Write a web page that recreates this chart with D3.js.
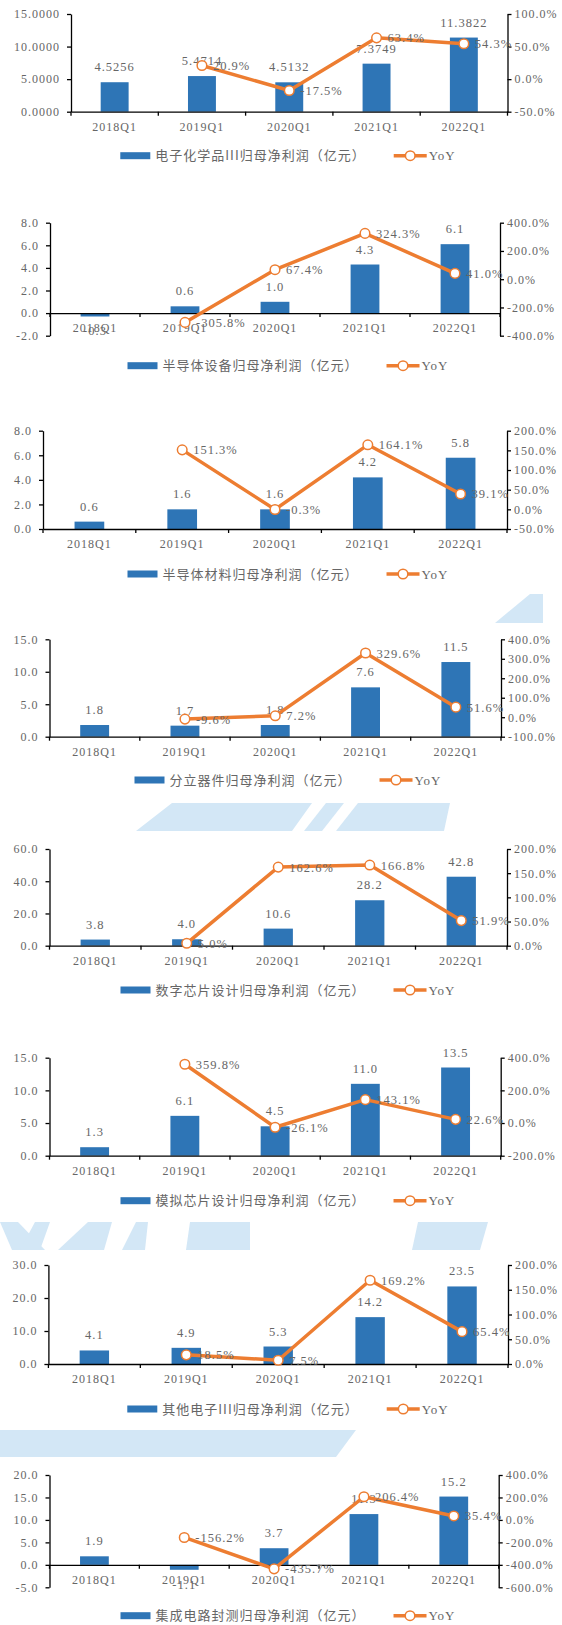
<!DOCTYPE html>
<html>
<head>
<meta charset="utf-8">
<script src="https://cdn.jsdelivr.net/npm/d3@7/dist/d3.min.js"></script>
<style>
  body { margin: 0; background: #fff; }
  svg { display: block; }
</style>
</head>
<body>
<svg id="chart" width="562" height="1625"></svg>
<script>
// ---- data ----
const quarters = ['2018Q1', '2019Q1', '2020Q1', '2021Q1', '2022Q1'];

const titles = [
  '电子化学品III归母净利润（亿元）',
  '半导体设备归母净利润（亿元）',
  '半导体材料归母净利润（亿元）',
  '分立器件归母净利润（亿元）',
  '数字芯片设计归母净利润（亿元）',
  '模拟芯片设计归母净利润（亿元）',
  '其他电子III归母净利润（亿元）',
  '集成电路封测归母净利润（亿元）'
];

const chemProfit = [4.5256, 5.4714, 4.5132, 7.3749, 11.3822];
const chemYoy = [null, 20.9, -17.5, 63.4, 54.3];
const equipProfit = [-0.3, 0.6, 1.0, 4.3, 6.1];
const equipYoy = [null, -305.8, 67.4, 324.3, 41.0];
const materialProfit = [0.6, 1.6, 1.6, 4.2, 5.8];
const materialYoy = [null, 151.3, -0.3, 164.1, 39.1];
const discreteProfit = [1.8, 1.7, 1.8, 7.6, 11.5];
const discreteYoy = [null, -9.6, 7.2, 329.6, 51.6];
const digitalProfit = [3.8, 4.0, 10.6, 28.2, 42.8];
const digitalYoy = [null, 5.0, 162.6, 166.8, 51.9];
const analogProfit = [1.3, 6.1, 4.5, 11.0, 13.5];
const analogYoy = [null, 359.8, -26.1, 143.1, 22.6];
const otherProfit = [4.1, 4.9, 5.3, 14.2, 23.5];
const otherYoy = [null, 18.5, 7.5, 169.2, 65.4];
const packProfit = [1.9, -1.1, 3.7, 11.3, 15.2];
const packYoy = [null, -156.2, -435.7, 206.4, 35.4];

const leftTicks = [
  [0, 5, 10, 15],
  [-2, 0, 2, 4, 6, 8],
  [0, 2, 4, 6, 8],
  [0, 5, 10, 15],
  [0, 20, 40, 60],
  [0, 5, 10, 15],
  [0, 10, 20, 30],
  [-5, 0, 5, 10, 15, 20]
];
const rightTicks = [
  [-50, 0, 50, 100],
  [-400, -200, 0, 200, 400],
  [-50, 0, 50, 100, 150, 200],
  [-100, 0, 100, 200, 300, 400],
  [0, 50, 100, 150, 200],
  [-200, 0, 200, 400],
  [0, 50, 100, 150, 200],
  [-600, -400, -200, 0, 200, 400]
];
const decimals = [4, 1, 1, 1, 1, 1, 1, 1];

const profits = [chemProfit, equipProfit, materialProfit, discreteProfit,
  digitalProfit, analogProfit, otherProfit, packProfit];
const yoys = [chemYoy, equipYoy, materialYoy, discreteYoy,
  digitalYoy, analogYoy, otherYoy, packYoy];

// ---- layout (plot boxes of each panel) ----
const layout = [
  {left: 71, right: 507.5, top: 14, bottom: 111.7, legendY: 155.7},
  {left: 50, right: 500, top: 222.7, bottom: 335.7, legendY: 365.7},
  {left: 43, right: 507, top: 430.7, bottom: 529, legendY: 574},
  {left: 49.5, right: 501, top: 639.3, bottom: 736.7, legendY: 780},
  {left: 49.5, right: 507, top: 849, bottom: 945.7, legendY: 990},
  {left: 49.5, right: 500.7, top: 1057.7, bottom: 1155.7, legendY: 1200.7},
  {left: 48.4, right: 508, top: 1265, bottom: 1364, legendY: 1409},
  {left: 49.5, right: 498.7, top: 1475, bottom: 1587.3, legendY: 1615.7}
];

const BAR = '#2E75B6';
const LINE = '#ED7D31';
const TEXT = '#666666';
const NUM_FONT = '"Liberation Serif", "DejaVu Serif", serif';
const CJK_FONT = '"Noto Sans CJK SC", sans-serif';

const locale = d3.formatLocale({decimal: '.', thousands: ',', grouping: [3], currency: ['', ''], minus: '-'});

const svg = d3.select('#chart');

// faint watermark visible between charts
const watermark = [
  [[530, 594], [543, 594], [543, 623], [495, 623]],
  [[172, 803], [312, 803], [292, 831], [136, 831]],
  [[326, 803], [344, 803], [322, 831], [304, 831]],
  [[358, 803], [450, 803], [444, 831], [336, 831]],
  [[0, 1222], [18, 1222], [45, 1250], [12, 1250]],
  [[35, 1222], [50, 1222], [40, 1250], [20, 1250]],
  [[88, 1222], [112, 1222], [104, 1250], [58, 1250]],
  [[136, 1222], [148, 1222], [145, 1250], [122, 1250]],
  [[190, 1222], [250, 1222], [250, 1250], [186, 1250]],
  [[418, 1222], [488, 1222], [480, 1250], [412, 1250]],
  [[0, 1430], [356, 1430], [336, 1457], [0, 1457]]
];
svg.append('g').selectAll('path').data(watermark).join('path')
  .attr('d', d => 'M' + d.join('L') + 'Z')
  .attr('fill', '#d3e7f6');

function styleAxis(g) {
  g.select('.domain').attr('stroke', '#000').attr('stroke-width', 1.3);
  g.selectAll('.tick line').attr('stroke', '#000').attr('stroke-width', 1.3);
  g.selectAll('.tick text')
    .attr('fill', TEXT)
    .style('font', '12px ' + NUM_FONT)
    .style('letter-spacing', '1px');
}

function drawPanel(i) {
  const box = layout[i]
    , profit = profits[i]
    , yoy = yoys[i]
    , lt = leftTicks[i]
    , rt = rightTicks[i]
    , valFmt = locale.format('.' + decimals[i] + 'f')
    , pctFmt = v => locale.format('.1f')(v) + '%';

  const g = svg.append('g').attr('class', 'panel');

  const x = d3.scaleBand().domain(quarters).range([box.left, box.right]);
  const y = d3.scaleLinear().domain(d3.extent(lt)).range([box.bottom, box.top]);
  const r = d3.scaleLinear().domain(d3.extent(rt)).range([box.bottom, box.top]);
  const barW = x.bandwidth() * 0.32;
  const cx = q => x(q) + x.bandwidth() / 2;

  // bars
  g.append('g').selectAll('rect').data(profit).join('rect')
    .attr('x', (d, k) => cx(quarters[k]) - barW / 2)
    .attr('y', d => y(Math.max(0, d)))
    .attr('width', barW)
    .attr('height', d => Math.abs(y(d) - y(0)))
    .attr('fill', BAR);

  // left axis
  const yAxis = d3.axisLeft(y).tickValues(lt).tickSizeInner(4).tickSizeOuter(0)
    .tickPadding(7).tickFormat(locale.format('.' + decimals[i] + 'f'));
  g.append('g').attr('transform', `translate(${box.left},0)`).call(yAxis).call(styleAxis);

  // right axis
  const rAxis = d3.axisRight(r).tickValues(rt).tickSizeInner(4).tickSizeOuter(0)
    .tickPadding(3).tickFormat(pctFmt);
  g.append('g').attr('transform', `translate(${box.right},0)`).call(rAxis).call(styleAxis);

  // category axis on the zero line
  const xAxis = d3.axisBottom(x).tickSize(0).tickSizeOuter(0).tickPadding(10.5);
  const xg = g.append('g').attr('transform', `translate(0,${y(0)})`).call(xAxis).call(styleAxis);
  xg.selectAll('.tick text').style('letter-spacing', '1px');
  const bounds = quarters.map(q => x(q)).concat([box.right]);
  xg.selectAll('line.bound').data(bounds).join('line')
    .attr('class', 'bound')
    .attr('x1', d => d).attr('x2', d => d)
    .attr('y1', 0).attr('y2', 4)
    .attr('stroke', '#000').attr('stroke-width', 1.3);

  // bar value labels
  g.append('g').selectAll('text').data(profit).join('text')
    .attr('x', (d, k) => cx(quarters[k]))
    .attr('y', d => d >= 0 ? y(d) - 11 : y(d) + 19)
    .attr('text-anchor', 'middle')
    .attr('fill', TEXT)
    .style('font', '12.5px ' + NUM_FONT)
    .style('letter-spacing', '1px')
    .text(d => valFmt(d));

  // yoy line
  const pts = yoy.map((v, k) => ({q: quarters[k], v})).filter(d => d.v !== null);
  const line = d3.line().x(d => cx(d.q)).y(d => r(d.v));
  g.append('path').datum(pts)
    .attr('d', line)
    .attr('fill', 'none')
    .attr('stroke', LINE)
    .attr('stroke-width', 3.5)
    .attr('stroke-linejoin', 'round');

  g.append('g').selectAll('circle').data(pts).join('circle')
    .attr('cx', d => cx(d.q))
    .attr('cy', d => r(d.v))
    .attr('r', 4.8)
    .attr('fill', '#fff')
    .attr('stroke', LINE)
    .attr('stroke-width', 1.5);

  g.append('g').selectAll('text').data(pts).join('text')
    .attr('x', d => cx(d.q) + 11)
    .attr('y', d => r(d.v) + 4.5)
    .attr('fill', TEXT)
    .style('font', '12.5px ' + NUM_FONT)
    .style('letter-spacing', '1px')
    .text(d => pctFmt(d.v));

  // legend
  const lg = g.append('g').attr('transform', `translate(0,${box.legendY})`);
  lg.append('rect').attr('x', 0).attr('y', -3.5).attr('width', 30).attr('height', 7).attr('fill', BAR);
  const t1 = lg.append('text').attr('x', 35).attr('y', 4.5)
    .attr('fill', TEXT)
    .style('font', '13px ' + CJK_FONT)
    .style('letter-spacing', '1px')
    .text(titles[i]);
  const lx = 35 + t1.node().getComputedTextLength() + 28;
  lg.append('line').attr('x1', lx).attr('x2', lx + 33).attr('y1', 0).attr('y2', 0)
    .attr('stroke', LINE).attr('stroke-width', 3.5);
  lg.append('circle').attr('cx', lx + 16.5).attr('cy', 0).attr('r', 4.8)
    .attr('fill', '#fff').attr('stroke', LINE).attr('stroke-width', 1.5);
  const t2 = lg.append('text').attr('x', lx + 35).attr('y', 4.5)
    .attr('fill', TEXT)
    .style('font', '13px ' + NUM_FONT)
    .style('letter-spacing', '1px')
    .text('YoY');
  const total = lx + 35 + t2.node().getComputedTextLength();
  lg.attr('transform', `translate(${288 - total / 2},${box.legendY})`);
}

layout.forEach((d, i) => drawPanel(i));
</script>
</body>
</html>
